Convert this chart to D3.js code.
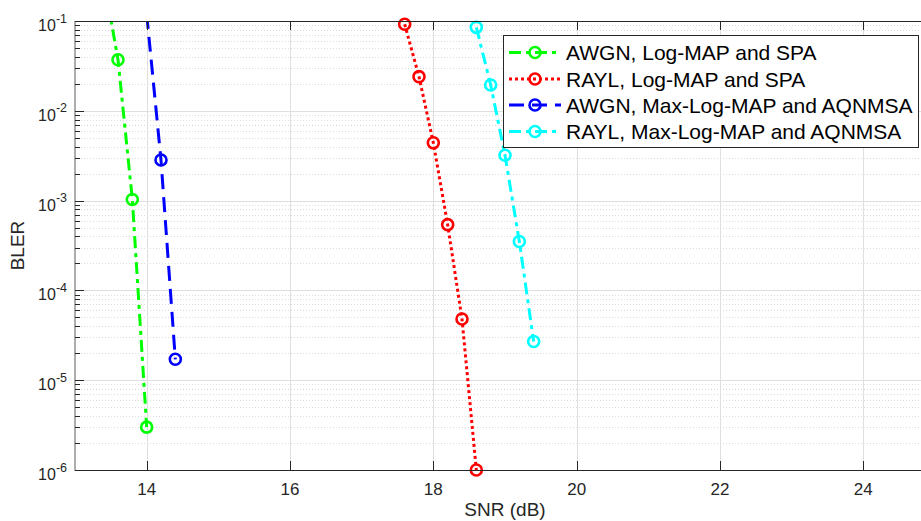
<!DOCTYPE html>
<html>
<head>
<meta charset="utf-8">
<script src="https://cdn.jsdelivr.net/npm/d3@7"></script>
<style>
  html, body { margin: 0; padding: 0; background: #fff; overflow: hidden; }
  svg { display: block; font-family: "Liberation Sans", Arial, Helvetica, sans-serif; }
</style>
</head>
<body>
<svg id="chart" width="921" height="521"></svg>
<script>
// BLER versus SNR for the four receiver configurations
const seriesNames = [
  "AWGN, Log-MAP and SPA",
  "RAYL, Log-MAP and SPA",
  "AWGN, Max-Log-MAP and AQNMSA",
  "RAYL, Max-Log-MAP and AQNMSA"
];
const awgnLogMapSnr  = [13.4, 13.6, 13.8, 14.0];
const awgnLogMapBler = [0.3, 0.037, 1.03e-3, 3.0e-6];
const raylLogMapSnr  = [17.6, 17.8, 18.0, 18.2, 18.4, 18.6];
const raylLogMapBler = [0.092, 0.024, 4.4e-3, 5.4e-4, 4.8e-5, 1.0e-6];
const awgnMaxLogSnr  = [14.0, 14.2, 14.4];
const awgnMaxLogBler = [0.12, 2.83e-3, 1.71e-5];
const raylMaxLogSnr  = [18.6, 18.8, 19.0, 19.2, 19.4];
const raylMaxLogBler = [0.085, 0.0194, 3.2e-3, 3.5e-4, 2.7e-5];

const xTicks = [14, 16, 18, 20, 22, 24];
const yTicks = [1e-6, 1e-5, 1e-4, 1e-3, 1e-2, 1e-1];
const xDomain = [13, 25];
const yDomain = [1e-6, 1e-1];

const series = [
  { name: seriesNames[0], snr: awgnLogMapSnr, bler: awgnLogMapBler, color: "#00ff00", dash: "12,5,4,5" },
  { name: seriesNames[1], snr: raylLogMapSnr, bler: raylLogMapBler, color: "#ff0000", dash: "3,3" },
  { name: seriesNames[2], snr: awgnMaxLogSnr, bler: awgnMaxLogBler, color: "#0000ff", dash: "15,8" },
  { name: seriesNames[3], snr: raylMaxLogSnr, bler: raylMaxLogBler, color: "#00ffff", dash: "12,5,4,5" }
];

const svg = d3.select("#chart");
const plot = { left: 75, right: 935, top: 21, bottom: 470 };
const axisColor = "#262626";

const x = d3.scaleLinear().domain(xDomain).range([plot.left, plot.right]);
const y = d3.scaleLog().domain(yDomain).range([plot.bottom, plot.top]);

svg.append("defs").append("clipPath").attr("id", "plotClip")
  .append("rect")
  .attr("x", plot.left).attr("y", plot.top)
  .attr("width", plot.right - plot.left).attr("height", plot.bottom - plot.top);

// minor values in each decade
const minorY = [];
for (let e = -6; e < -1; e++) {
  for (let m = 2; m <= 9; m++) minorY.push(m * Math.pow(10, e));
}

const grid = svg.append("g");
grid.selectAll(".minor").data(minorY).join("line")
  .attr("x1", plot.left).attr("x2", plot.right)
  .attr("y1", d => Math.round(y(d)) + 0.5).attr("y2", d => Math.round(y(d)) + 0.5)
  .attr("stroke", "#dcdcdc").attr("stroke-width", 1).attr("stroke-dasharray", "1,2");
grid.selectAll(".majorY").data(yTicks.slice(1, -1)).join("line")
  .attr("x1", plot.left).attr("x2", plot.right)
  .attr("y1", d => Math.round(y(d)) + 0.5).attr("y2", d => Math.round(y(d)) + 0.5)
  .attr("stroke", "#dfdfdf").attr("stroke-width", 1);
grid.selectAll(".majorX").data(xTicks).join("line")
  .attr("y1", plot.top).attr("y2", plot.bottom)
  .attr("x1", d => Math.round(x(d)) + 0.5).attr("x2", d => Math.round(x(d)) + 0.5)
  .attr("stroke", "#dfdfdf").attr("stroke-width", 1);

// data lines and circle markers
const line = d3.line().x(d => x(d[0])).y(d => y(d[1]));
const lines = svg.append("g").attr("clip-path", "url(#plotClip)");
const markers = svg.append("g");
series.forEach(s => {
  const pts = s.snr.map((v, i) => [v, s.bler[i]]);
  lines.append("path").datum(pts)
    .attr("d", line)
    .attr("fill", "none")
    .attr("stroke", s.color)
    .attr("stroke-width", 3)
    .attr("stroke-dasharray", s.dash);
  markers.selectAll(null)
    .data(pts.filter(p => p[1] <= yDomain[1] && p[1] >= yDomain[0]))
    .join("circle")
    .attr("cx", d => x(d[0])).attr("cy", d => y(d[1]))
    .attr("r", 5.5)
    .attr("fill", "none")
    .attr("stroke", s.color)
    .attr("stroke-width", 2.6);
});

// axes: bottom, left, and inward ticks on the top edge
const axes = svg.append("g");
axes.append("line")
  .attr("x1", plot.left).attr("x2", plot.right)
  .attr("y1", plot.bottom + 0.5).attr("y2", plot.bottom + 0.5)
  .attr("stroke", axisColor);
axes.append("line")
  .attr("x1", plot.left).attr("x2", plot.right)
  .attr("y1", plot.top + 0.5).attr("y2", plot.top + 0.5)
  .attr("stroke", axisColor);
axes.append("line")
  .attr("x1", plot.left).attr("x2", plot.left)
  .attr("y1", plot.top).attr("y2", plot.bottom + 1)
  .attr("stroke", "#5a5a5a");

xTicks.forEach(t => {
  const px = Math.round(x(t)) + 0.5;
  axes.append("line").attr("x1", px).attr("x2", px)
    .attr("y1", plot.bottom).attr("y2", plot.bottom - 9).attr("stroke", axisColor);
  axes.append("line").attr("x1", px).attr("x2", px)
    .attr("y1", plot.top).attr("y2", plot.top + 9).attr("stroke", axisColor);
  axes.append("text")
    .attr("x", x(t)).attr("y", plot.bottom + 25)
    .attr("text-anchor", "middle")
    .attr("font-size", 17).attr("fill", axisColor)
    .text(t);
});

minorY.forEach(v => {
  const py = Math.round(y(v)) + 0.5;
  axes.append("line").attr("x1", plot.left).attr("x2", plot.left + 5)
    .attr("y1", py).attr("y2", py).attr("stroke", axisColor);
});

yTicks.forEach(t => {
  const py = Math.round(y(t)) + 0.5;
  axes.append("line").attr("x1", plot.left).attr("x2", plot.left + 9)
    .attr("y1", py).attr("y2", py).attr("stroke", axisColor);
  const label = axes.append("text")
    .attr("x", 67).attr("y", y(t) + 10)
    .attr("text-anchor", "end")
    .attr("fill", axisColor);
  label.append("tspan").attr("font-size", 16).text("10");
  label.append("tspan").attr("font-size", 12.5).attr("dy", -8.5)
    .text(Math.round(Math.log10(t)));
});

// axis titles
svg.append("text")
  .attr("x", (plot.left + plot.right) / 2).attr("y", 516)
  .attr("text-anchor", "middle").attr("font-size", 19).attr("fill", axisColor)
  .text("SNR (dB)");
svg.append("text")
  .attr("transform", `translate(24,${(plot.top + plot.bottom) / 2}) rotate(-90)`)
  .attr("text-anchor", "middle").attr("font-size", 19).attr("fill", axisColor)
  .text("BLER");

// legend
const legend = svg.append("g");
legend.append("rect")
  .attr("x", 503.5).attr("y", 35.5).attr("width", 415).attr("height", 112)
  .attr("fill", "#fff").attr("stroke", axisColor).attr("stroke-width", 1);
const rowY = [52.5, 79, 105, 131.5];
series.forEach((s, i) => {
  const g = legend.append("g").attr("transform", `translate(0,${rowY[i]})`);
  g.append("line").attr("x1", 509).attr("x2", 561).attr("y1", 0).attr("y2", 0)
    .attr("stroke", s.color).attr("stroke-width", 3).attr("stroke-dasharray", s.dash);
  g.append("circle").attr("cx", 535).attr("cy", 0).attr("r", 5.5)
    .attr("fill", "none").attr("stroke", s.color).attr("stroke-width", 2.6);
  g.append("text").attr("x", 566).attr("y", 7.5)
    .attr("font-size", 21).attr("fill", "#000")
    .text(s.name);
});
</script>
</body>
</html>
